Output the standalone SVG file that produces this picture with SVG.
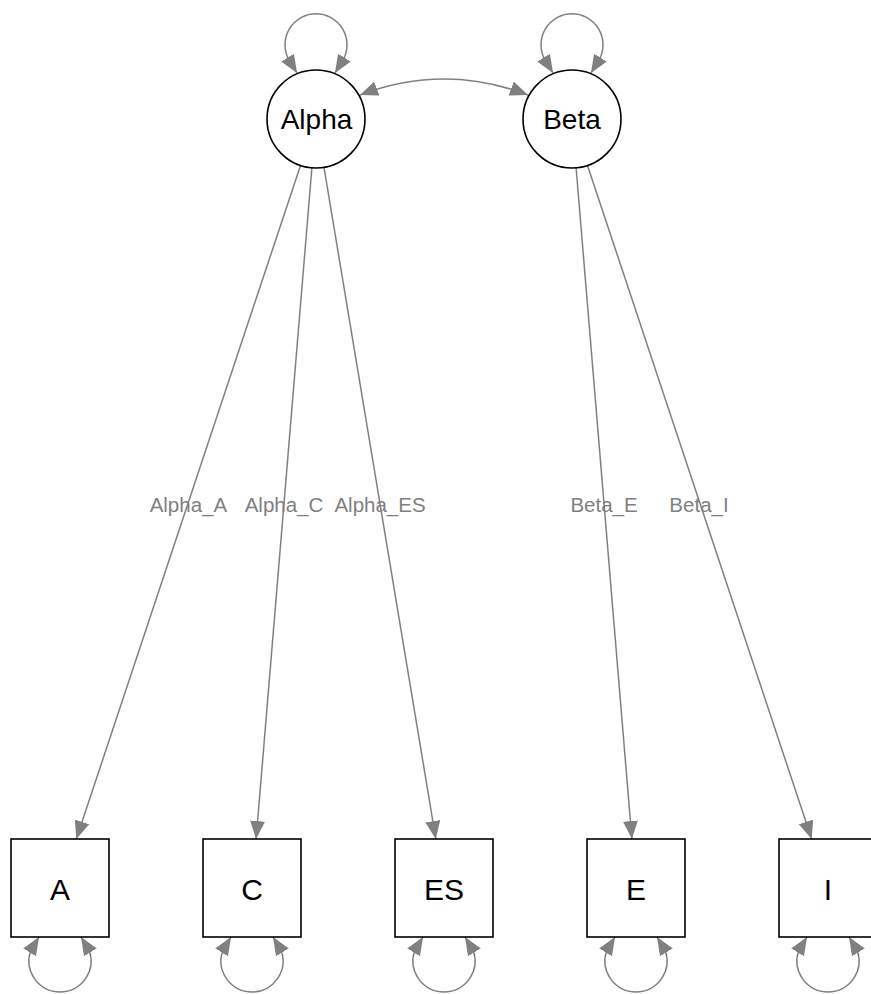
<svg xmlns="http://www.w3.org/2000/svg" width="871" height="994" viewBox="0 0 871 994">
<defs>
<marker id="ah" markerUnits="userSpaceOnUse" markerWidth="19" markerHeight="15" refX="18" refY="7.5" orient="auto-start-reverse" viewBox="0 0 19 15">
<path d="M0,0 L18,7.5 L0,15 Z" fill="#808080"/>
</marker>
</defs>
<style>
.edge{fill:none;stroke:#808080;stroke-width:1.5}
.arr{marker-end:url(#ah)}
.both{marker-start:url(#ah);marker-end:url(#ah)}
.lat{fill:#fff;stroke:#000;stroke-width:1.6}
.man{fill:#fff;stroke:#000;stroke-width:1.6}
.nl{font-family:"Liberation Sans",Arial,sans-serif;fill:#000;text-anchor:middle}
.el{font-family:"Liberation Sans",Arial,sans-serif;fill:#808080;text-anchor:middle;font-size:20.5px}
</style>
<rect width="871" height="994" fill="#fff"/>
<g id="connectors">
<path class="edge arr" d="M300.5,165.5 L76.3,839"/>
<path class="edge arr" d="M311.9,167.8 L256.1,839"/>
<path class="edge arr" d="M324,167.3 L435.8,839"/>
<path class="edge arr" d="M576.1,167.8 L631.9,839"/>
<path class="edge arr" d="M587.5,165.5 L811.7,839"/>
<path class="edge both" d="M360,95 Q444,63 528,95"/>
<path class="edge both" d="M297,73 L289,60 A31 31 0 1 1 343,60 L335,73"/>
<path class="edge both" d="M553,73 L545,60 A31 31 0 1 1 599,60 L591,73"/>
<path class="edge both" d="M39,937 L31,950 A31 31 0 1 0 89,950 L81,937"/>
<path class="edge both" d="M231,937 L223,950 A31 31 0 1 0 281,950 L273,937"/>
<path class="edge both" d="M423,937 L415,950 A31 31 0 1 0 473,950 L465,937"/>
<path class="edge both" d="M615,937 L607,950 A31 31 0 1 0 665,950 L657,937"/>
<path class="edge both" d="M807,937 L799,950 A31 31 0 1 0 857,950 L849,937"/>
<text class="el" x="188.4" y="512">Alpha_A</text>
<text class="el" x="284" y="512">Alpha_C</text>
<text class="el" x="380" y="512">Alpha_ES</text>
<text class="el" x="604" y="512">Beta_E</text>
<text class="el" x="699" y="512">Beta_I</text>
</g>
<g id="Alpha">
<circle class="lat" cx="316" cy="119" r="49"/>
<text class="nl" x="316.5" y="129" font-size="28">Alpha</text>
</g>
<g id="Beta">
<circle class="lat" cx="572" cy="119" r="49"/>
<text class="nl" x="572" y="129" font-size="28">Beta</text>
</g>
<g id="A">
<rect class="man" x="11" y="839" width="98" height="98"/>
<text class="nl" x="60" y="899.5" font-size="30">A</text>
</g>
<g id="C">
<rect class="man" x="203" y="839" width="98" height="98"/>
<text class="nl" x="252" y="899.5" font-size="30">C</text>
</g>
<g id="ES">
<rect class="man" x="395" y="839" width="98" height="98"/>
<text class="nl" x="444" y="899.5" font-size="30">ES</text>
</g>
<g id="E">
<rect class="man" x="587" y="839" width="98" height="98"/>
<text class="nl" x="636" y="899.5" font-size="30">E</text>
</g>
<g id="I">
<rect class="man" x="779" y="839" width="98" height="98"/>
<text class="nl" x="828" y="899.5" font-size="30">I</text>
</g>
</svg>
